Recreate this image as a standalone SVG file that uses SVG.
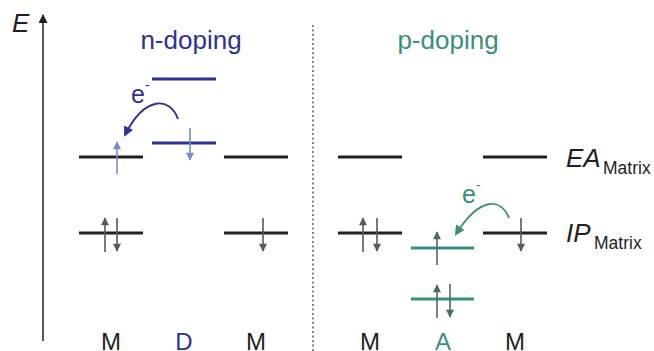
<svg xmlns="http://www.w3.org/2000/svg" width="654" height="351" viewBox="0 0 654 351">
<style>
text{font-family:"Liberation Sans",Arial,sans-serif}
.lvl{stroke:#231f20;stroke-width:3}
.blu{stroke:#2e3192;stroke-width:3}
.tea{stroke:#38907c;stroke-width:3}
.spin{stroke:#58595b;stroke-width:1.6;fill:none}
.lb{stroke:#6f8fcc;stroke-width:1.6;fill:none}
.tsp{stroke:#4a6a66;stroke-width:1.6;fill:none}
.lab{font-size:24px;fill:#231f20;text-anchor:middle}
</style>
<defs>
<marker id="ag" viewBox="0 0 10 10" refX="9" refY="5" markerWidth="9" markerHeight="8" orient="auto" markerUnits="userSpaceOnUse"><path d="M0,0 L10,5 L0,10 z" fill="#58595b"/></marker>
<marker id="ab" viewBox="0 0 10 10" refX="9" refY="5" markerWidth="9" markerHeight="8" orient="auto" markerUnits="userSpaceOnUse"><path d="M0,0 L10,5 L0,10 z" fill="#6f8fcc"/></marker>
<marker id="at" viewBox="0 0 10 10" refX="9" refY="5" markerWidth="9" markerHeight="8" orient="auto" markerUnits="userSpaceOnUse"><path d="M0,0 L10,5 L0,10 z" fill="#4a6a66"/></marker>
<marker id="ak" viewBox="0 0 10 10" refX="9" refY="5" markerWidth="11" markerHeight="9" orient="auto" markerUnits="userSpaceOnUse"><path d="M0,0 L10,5 L0,10 z" fill="#231f20"/></marker>
<marker id="aB" viewBox="0 0 10 10" refX="8" refY="5" markerWidth="11" markerHeight="10" orient="auto" markerUnits="userSpaceOnUse"><path d="M0,0 L10,5 L0,10 z" fill="#2e3192"/></marker>
<marker id="aT" viewBox="0 0 10 10" refX="8" refY="5" markerWidth="11" markerHeight="10" orient="auto" markerUnits="userSpaceOnUse"><path d="M0,0 L10,5 L0,10 z" fill="#38907c"/></marker>
</defs>

<g id="axis">
<line x1="43" y1="341" x2="43" y2="15" stroke="#231f20" stroke-width="1.5" marker-end="url(#ak)"/>
<text x="12" y="32" font-size="26" font-style="italic" fill="#231f20">E</text>
</g>
<line id="divider" x1="313" y1="25" x2="313" y2="351" stroke="#58595b" stroke-width="1.5" stroke-dasharray="2,2.5"/>

<text id="n-title" x="191" y="49" font-size="26" fill="#2e3192" text-anchor="middle">n-doping</text>
<text id="p-title" x="448" y="49" font-size="26" fill="#38907c" text-anchor="middle">p-doping</text>

<g id="M1">
<line class="lvl" x1="79" y1="157" x2="143" y2="157"/>
<line class="lvl" x1="79" y1="233" x2="143" y2="233"/>
<line class="lb" x1="117" y1="174" x2="117" y2="142" marker-end="url(#ab)"/>
<line class="spin" x1="105" y1="252" x2="105" y2="218" marker-end="url(#ag)"/>
<line class="spin" x1="117" y1="218" x2="117" y2="251" marker-end="url(#ag)"/>
<text class="lab" x="111" y="350">M</text>
</g>
<g id="D">
<line class="blu" x1="152" y1="79" x2="216" y2="79"/>
<line class="blu" x1="152" y1="143" x2="216" y2="143"/>
<line class="lb" x1="190" y1="128" x2="190" y2="160" marker-end="url(#ab)"/>
<text class="lab" x="184" y="350" style="fill:#2e3192">D</text>
</g>
<g id="M2">
<line class="lvl" x1="224" y1="157" x2="288" y2="157"/>
<line class="lvl" x1="224" y1="233" x2="288" y2="233"/>
<line class="spin" x1="263" y1="218" x2="263" y2="251" marker-end="url(#ag)"/>
<text class="lab" x="256" y="350">M</text>
</g>
<g id="M3">
<line class="lvl" x1="338" y1="157" x2="402" y2="157"/>
<line class="lvl" x1="338" y1="233" x2="402" y2="233"/>
<line class="spin" x1="363" y1="252" x2="363" y2="218" marker-end="url(#ag)"/>
<line class="spin" x1="377" y1="218" x2="377" y2="251" marker-end="url(#ag)"/>
<text class="lab" x="370" y="350">M</text>
</g>
<g id="A">
<line class="tea" x1="411" y1="248" x2="474" y2="248"/>
<line class="tea" x1="411" y1="299" x2="474" y2="299"/>
<line class="tsp" x1="437" y1="265" x2="437" y2="232" marker-end="url(#at)"/>
<line class="tsp" x1="437" y1="318" x2="437" y2="285" marker-end="url(#at)"/>
<line class="tsp" x1="450" y1="284" x2="450" y2="317" marker-end="url(#at)"/>
<text class="lab" x="443" y="350" style="fill:#38907c">A</text>
</g>
<g id="M4">
<line class="lvl" x1="483" y1="157" x2="547" y2="157"/>
<line class="lvl" x1="483" y1="233" x2="547" y2="233"/>
<line class="spin" x1="521" y1="218" x2="521" y2="251" marker-end="url(#ag)"/>
<text class="lab" x="515" y="350">M</text>
</g>

<g id="EA-label">
<text x="566" y="167" font-size="26" font-style="italic" fill="#231f20">EA</text>
<text x="603" y="174" font-size="17.5" fill="#231f20">Matrix</text>
</g>
<g id="IP-label">
<text x="566" y="242" font-size="26" font-style="italic" fill="#231f20">IP</text>
<text x="594" y="249" font-size="17.5" fill="#231f20">Matrix</text>
</g>

<g id="connectors">
<path d="M178,119 C170,97 145,95 125,135" fill="none" stroke="#2e3192" stroke-width="1.8" marker-end="url(#aB)"/>
<path d="M509,218 C501,198 480,196 456,234" fill="none" stroke="#38907c" stroke-width="1.8" marker-end="url(#aT)"/>
</g>
<text id="e-n" x="131" y="103" font-size="25" fill="#2e3192">e<tspan font-size="14" dy="-13">-</tspan></text>
<text id="e-p" x="462" y="203" font-size="25" fill="#38907c">e<tspan font-size="14" dy="-13">-</tspan></text>
</svg>
